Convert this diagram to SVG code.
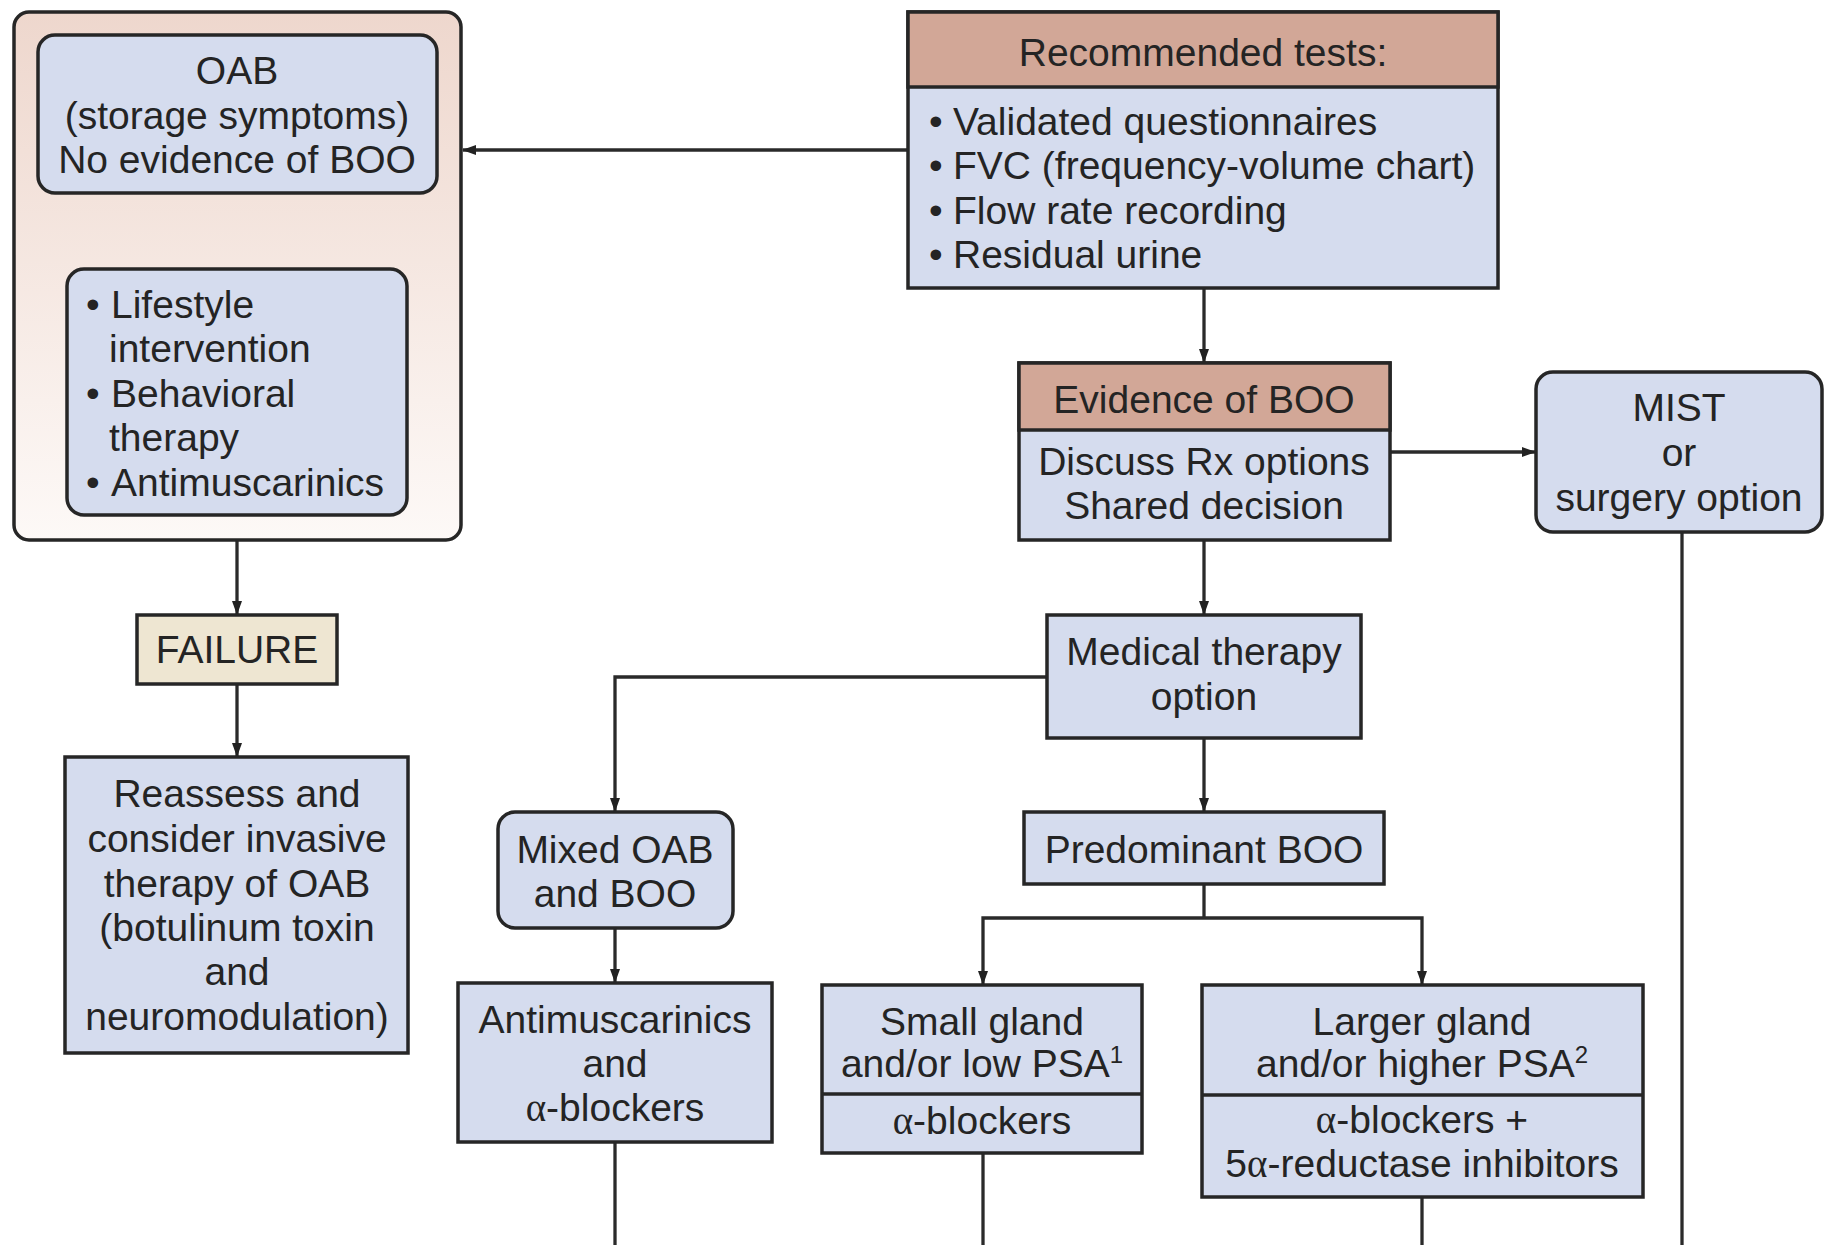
<svg xmlns="http://www.w3.org/2000/svg" width="1824" height="1245" viewBox="0 0 1824 1245">
  <style>
    text { font-family: "Liberation Sans", Arial, sans-serif; font-size: 39px; fill: #242424; }
    .c { text-anchor: middle; }
    .box { fill: #d5dcee; stroke: #262626; stroke-width: 3.5; }
    .hdr { fill: #d2a797; stroke: #262626; stroke-width: 3.5; }
    .fail { fill: #eee6d2; stroke: #262626; stroke-width: 3.5; }
    .grp { fill: url(#grpFill); stroke: #262626; stroke-width: 3.5; }
    .div { stroke: #262626; stroke-width: 3.5; }
    .wire { fill: none; stroke: #2a2a2a; stroke-width: 3.3; }
    .arr { marker-end: url(#head); }
    .gk { font-family: "Liberation Serif", "Times New Roman", serif; }
    .sup { font-size: 24px; }
  </style>
  <defs>
    <linearGradient id="grpFill" x1="0" y1="0" x2="0" y2="1">
      <stop offset="0" stop-color="#eed7cd"/>
      <stop offset="1" stop-color="#fdf9f7"/>
    </linearGradient>
    <marker id="head" markerUnits="userSpaceOnUse" markerWidth="14" markerHeight="12" refX="13" refY="6" orient="auto">
      <path d="M0,1 L14,6 L0,11 z" fill="#222"/>
    </marker>
  </defs>

  <rect width="1824" height="1245" fill="#ffffff"/>

  <!-- connectors -->
  <g id="connectors">
    <path class="wire arr" d="M908,150 H463"/>
    <path class="wire arr" d="M237,193 V268"/>
    <path class="wire arr" d="M237,540 V614"/>
    <path class="wire arr" d="M237,684 V756"/>
    <path class="wire arr" d="M1204,288 V362"/>
    <path class="wire arr" d="M1390,452 H1535"/>
    <path class="wire" d="M1682,532 V1245"/>
    <path class="wire arr" d="M1204,540 V614"/>
    <path class="wire arr" d="M1047,677 H615 V811"/>
    <path class="wire arr" d="M1204,738 V811"/>
    <path class="wire arr" d="M615,928 V982"/>
    <path class="wire" d="M615,1142 V1245"/>
    <path class="wire" d="M1204,884 V918"/>
    <path class="wire arr" d="M1204,918 H983 V984"/>
    <path class="wire arr" d="M1204,918 H1422 V984"/>
    <path class="wire" d="M983,1153 V1245"/>
    <path class="wire" d="M1422,1197 V1245"/>
  </g>

  <!-- OAB group container -->
  <g id="oab-group">
    <rect class="grp" x="14" y="12" width="447" height="528" rx="15"/>
  </g>

  <g id="oab">
    <rect class="box" x="38" y="35" width="399" height="158" rx="17"/>
    <text class="c" x="237" y="84">OAB</text>
    <text class="c" x="237" y="129">(storage symptoms)</text>
    <text class="c" x="237" y="173">No evidence of BOO</text>
  </g>

  <g id="oab-treatment">
    <rect class="box" x="67" y="269" width="340" height="246" rx="17"/>
    <text x="86" y="318">•</text><text x="111" y="318">Lifestyle</text>
    <text x="109" y="362">intervention</text>
    <text x="86" y="407">•</text><text x="111" y="407">Behavioral</text>
    <text x="109" y="451">therapy</text>
    <text x="86" y="496">•</text><text x="111" y="496">Antimuscarinics</text>
  </g>

  <g id="failure">
    <rect class="fail" x="137" y="615" width="200" height="69"/>
    <text class="c" x="237" y="663">FAILURE</text>
  </g>

  <g id="reassess">
    <rect class="box" x="65" y="757" width="343" height="296"/>
    <text class="c" x="237" y="807">Reassess and</text>
    <text class="c" x="237" y="852">consider invasive</text>
    <text class="c" x="237" y="897">therapy of OAB</text>
    <text class="c" x="237" y="941">(botulinum toxin</text>
    <text class="c" x="237" y="985">and</text>
    <text class="c" x="237" y="1030">neuromodulation)</text>
  </g>

  <g id="recommended-tests">
    <rect class="box" x="908" y="12" width="590" height="276"/>
    <rect class="hdr" x="908" y="12" width="590" height="75"/>
    <text class="c" x="1203" y="66">Recommended tests:</text>
    <text x="929" y="135">•</text><text x="953" y="135">Validated questionnaires</text>
    <text x="929" y="179">•</text><text x="953" y="179">FVC (frequency-volume chart)</text>
    <text x="929" y="224">•</text><text x="953" y="224">Flow rate recording</text>
    <text x="929" y="268">•</text><text x="953" y="268">Residual urine</text>
  </g>

  <g id="evidence-boo">
    <rect class="box" x="1019" y="363" width="371" height="177"/>
    <rect class="hdr" x="1019" y="363" width="371" height="67"/>
    <text class="c" x="1204" y="413">Evidence of BOO</text>
    <text class="c" x="1204" y="475">Discuss Rx options</text>
    <text class="c" x="1204" y="519">Shared decision</text>
  </g>

  <g id="mist">
    <rect class="box" x="1536" y="372" width="286" height="160" rx="17"/>
    <text class="c" x="1679" y="421">MIST</text>
    <text class="c" x="1679" y="466">or</text>
    <text class="c" x="1679" y="511">surgery option</text>
  </g>

  <g id="medical-therapy">
    <rect class="box" x="1047" y="615" width="314" height="123"/>
    <text class="c" x="1204" y="665">Medical therapy</text>
    <text class="c" x="1204" y="710">option</text>
  </g>

  <g id="mixed">
    <rect class="box" x="498" y="812" width="235" height="116" rx="17"/>
    <text class="c" x="615" y="863">Mixed OAB</text>
    <text class="c" x="615" y="907">and BOO</text>
  </g>

  <g id="predominant-boo">
    <rect class="box" x="1024" y="812" width="360" height="72"/>
    <text class="c" x="1204" y="863">Predominant BOO</text>
  </g>

  <g id="antimuscarinics-alpha">
    <rect class="box" x="458" y="983" width="314" height="159"/>
    <text class="c" x="615" y="1033">Antimuscarinics</text>
    <text class="c" x="615" y="1077">and</text>
    <text class="c" x="615" y="1121"><tspan class="gk">α</tspan>-blockers</text>
  </g>

  <g id="small-gland">
    <rect class="box" x="822" y="985" width="320" height="168"/>
    <line class="div" x1="822" y1="1094" x2="1142" y2="1094"/>
    <text class="c" x="982" y="1035">Small gland</text>
    <text class="c" x="982" y="1077">and/or low PSA<tspan class="sup" dy="-14">1</tspan></text>
    <text class="c" x="982" y="1134"><tspan class="gk">α</tspan>-blockers</text>
  </g>

  <g id="larger-gland">
    <rect class="box" x="1202" y="985" width="441" height="212"/>
    <line class="div" x1="1202" y1="1095" x2="1643" y2="1095"/>
    <text class="c" x="1422" y="1035">Larger gland</text>
    <text class="c" x="1422" y="1077">and/or higher PSA<tspan class="sup" dy="-14">2</tspan></text>
    <text class="c" x="1422" y="1133"><tspan class="gk">α</tspan>-blockers +</text>
    <text class="c" x="1422" y="1177">5<tspan class="gk">α</tspan>-reductase inhibitors</text>
  </g>
</svg>
